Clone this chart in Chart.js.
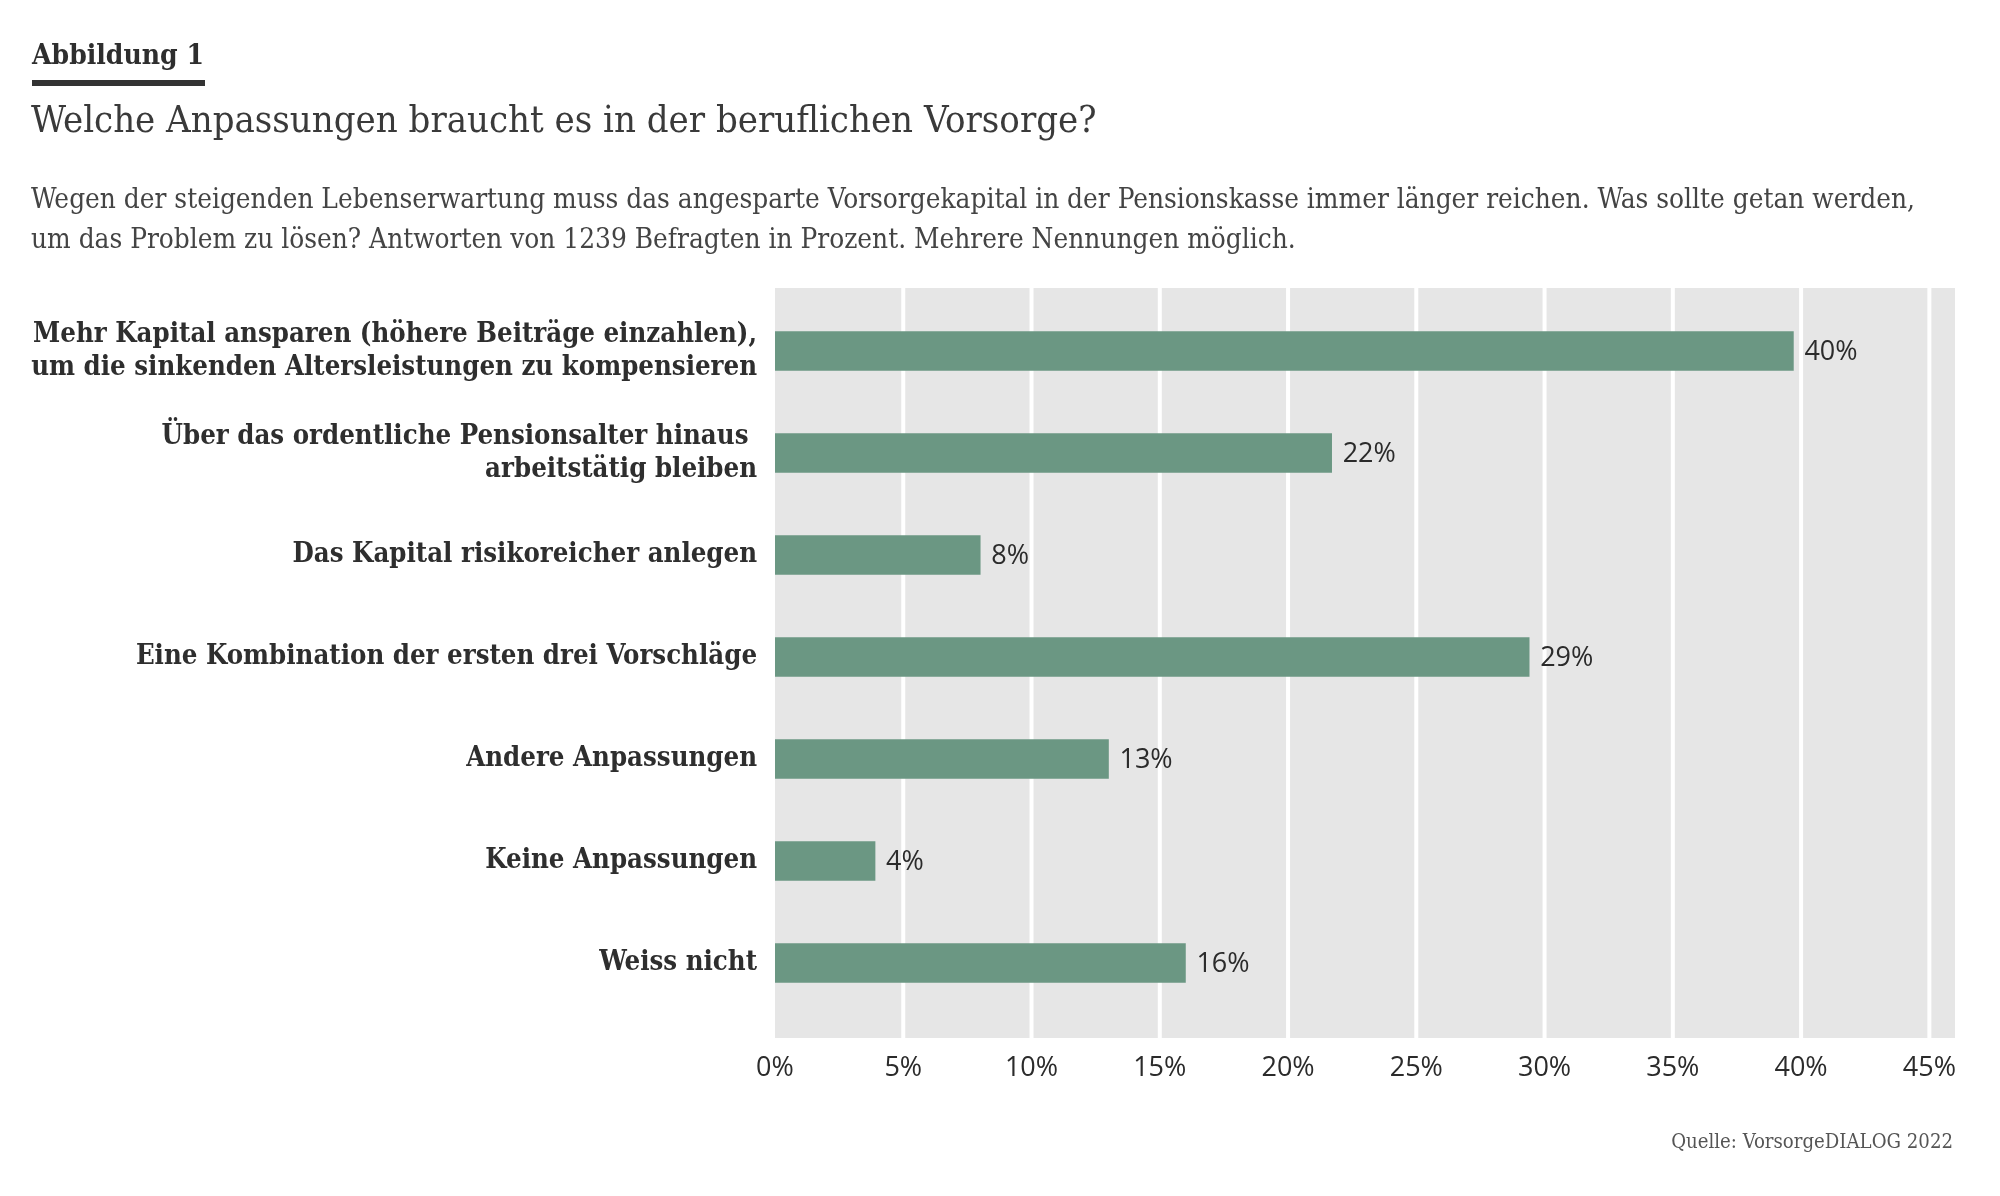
<!DOCTYPE html>
<html>
<head>
<meta charset="utf-8">
<script src="https://cdn.jsdelivr.net/npm/chart.js@4"></script>
<style>
html,body{margin:0;padding:0;background:#fff;}
#wrap{position:relative;width:2000px;height:1196px;overflow:hidden;background:#fff;}
#chartBox{position:absolute;left:0;top:0;width:2000px;height:1196px;}
.t{position:absolute;white-space:pre;line-height:1;margin:0;}
</style>
</head>
<body>
<div id="wrap">
  <div id="chartBox"><canvas id="c"></canvas></div>
  <div class="t" id="kicker">Abbildung 1</div>
  <div id="rule" style="position:absolute;left:32px;top:80px;width:173px;height:6px;background:#333;"></div>
  <div class="t" id="title">Welche Anpassungen braucht es in der beruflichen Vorsorge?</div>
  <div class="t" id="sub1">Wegen der steigenden Lebenserwartung muss das angesparte Vorsorgekapital in der Pensionskasse immer länger reichen. Was sollte getan werden,</div>
  <div class="t" id="sub2">um das Problem zu lösen? Antworten von 1239 Befragten in Prozent. Mehrere Nennungen möglich.</div>
  <div class="t" id="source">Quelle: VorsorgeDIALOG 2022</div>
</div>
<script>
// ---- data ----
const categories = [
  ['Mehr Kapital ansparen (höhere Beiträge einzahlen),', 'um die sinkenden Altersleistungen zu kompensieren'],
  ['Über das ordentliche Pensionsalter hinaus ', 'arbeitstätig bleiben'],
  'Das Kapital risikoreicher anlegen',
  'Eine Kombination der ersten drei Vorschläge',
  'Andere Anpassungen',
  'Keine Anpassungen',
  'Weiss nicht'
];
const values = [39.7, 21.7, 8.0, 29.4, 13.0, 3.9, 16.0];
const valueLabels = ['40%', '22%', '8%', '29%', '13%', '4%', '16%'];
const xTicks = [0, 5, 10, 15, 20, 25, 30, 35, 40, 45];

// ---- fonts / text fitting ----
const SERIF = "'DejaVu Serif Condensed', 'DejaVu Serif', serif";
const SANS = "'Open Sans', 'Noto Sans', sans-serif";
const mctx = document.createElement('canvas').getContext('2d');
function fitSize(text, weight, family, target) {
  mctx.font = weight + ' 100px ' + family;
  return 100 * target / mctx.measureText(text).width;
}
function placeText(id, weight, family, size, x, baseline, color, alignRight) {
  const el = document.getElementById(id);
  el.style.fontFamily = family;
  el.style.fontWeight = weight;
  el.style.fontSize = size + 'px';
  el.style.color = color;
  mctx.font = weight + ' ' + size + 'px ' + family;
  const m = mctx.measureText(el.textContent);
  const fa = m.fontBoundingBoxAscent, fd = m.fontBoundingBoxDescent;
  const top = baseline - ((size - (fa + fd)) / 2 + fa);
  el.style.top = top + 'px';
  if (alignRight) el.style.left = (x - m.width) + 'px';
  else el.style.left = x + 'px';
}
const kSize = fitSize('Abbildung 1', 'bold', SERIF, 172);
placeText('kicker', 'bold', SERIF, kSize, 32, 64, '#2e2e2e');
const tSize = fitSize(document.getElementById('title').textContent, 'normal', SERIF, 1066);
placeText('title', 'normal', SERIF, tSize, 31, 133, '#3a3a3a');
const sSize = fitSize(document.getElementById('sub1').textContent, 'normal', SERIF, 1885);
placeText('sub1', 'normal', SERIF, sSize, 31, 208, '#444');
placeText('sub2', 'normal', SERIF, sSize, 31, 248, '#444');
const qSize = fitSize('Quelle: VorsorgeDIALOG 2022', 'normal', SERIF, 282);
placeText('source', 'normal', SERIF, qSize, 1953, 1148, '#555', true);

const labelSize = fitSize('um die sinkenden Altersleistungen zu kompensieren', 'bold', SERIF, 726);

// ---- plugins ----
const plotBg = {
  id: 'plotBg',
  beforeDatasetsDraw(chart) {
    const { ctx, chartArea: a, scales: { x } } = chart;
    const top = a.top - 12, bottom = a.bottom + 24;
    ctx.save();
    ctx.fillStyle = '#e6e6e6';
    ctx.fillRect(a.left, top, a.right - a.left, bottom - top);
    ctx.strokeStyle = '#ffffff';
    ctx.lineWidth = 4;
    x.ticks.forEach(t => {
      if (t.value === 0) return;
      const px = x.getPixelForValue(t.value);
      ctx.beginPath();
      ctx.moveTo(px, top);
      ctx.lineTo(px, bottom);
      ctx.stroke();
    });
    ctx.restore();
  }
};
const valueLabelPlugin = {
  id: 'valueLabels',
  afterDatasetsDraw(chart) {
    const { ctx } = chart;
    const meta = chart.getDatasetMeta(0);
    ctx.save();
    ctx.font = '500 27px ' + SANS;
    ctx.fillStyle = '#2b2b2b';
    ctx.textAlign = 'left';
    ctx.textBaseline = 'middle';
    meta.data.forEach((bar, i) => {
      ctx.fillText(valueLabels[i], bar.x + 11, bar.y + 1);
    });
    ctx.restore();
  }
};

new Chart(document.getElementById('c'), {
  type: 'bar',
  data: {
    labels: categories,
    datasets: [{
      data: values,
      backgroundColor: '#6b9783',
      borderWidth: 0,
      barThickness: 39
    }]
  },
  plugins: [plotBg, valueLabelPlugin],
  options: {
    indexAxis: 'y',
    responsive: true,
    maintainAspectRatio: false,
    animation: false,
    devicePixelRatio: 1,
    layout: { padding: { top: 300, right: 45, bottom: 102, left: 0 } },
    plugins: { legend: { display: false }, tooltip: { enabled: false } },
    scales: {
      x: {
        min: 0, max: 46,
        grid: { display: false, drawTicks: false },
        border: { display: false },
        ticks: {
          stepSize: 5, includeBounds: false, autoSkip: false, maxRotation: 0,
          callback: v => v + '%',
          color: '#2b2b2b',
          font: { family: SANS, size: 27, weight: '500' },
          padding: 38
        },
        afterBuildTicks: s => { s.ticks = xTicks.map(v => ({ value: v })); },
        afterFit: s => { s.height = 80; }
      },
      y: {
        grid: { display: false, drawTicks: false },
        border: { display: false },
        ticks: {
          autoSkip: false,
          color: '#2e2e2e',
          font: { family: SERIF, weight: 'bold', size: labelSize, lineHeight: '33px' },
          padding: 18
        },
        afterFit: s => { s.width = 775; }
      }
    }
  }
});
</script>
</body>
</html>
